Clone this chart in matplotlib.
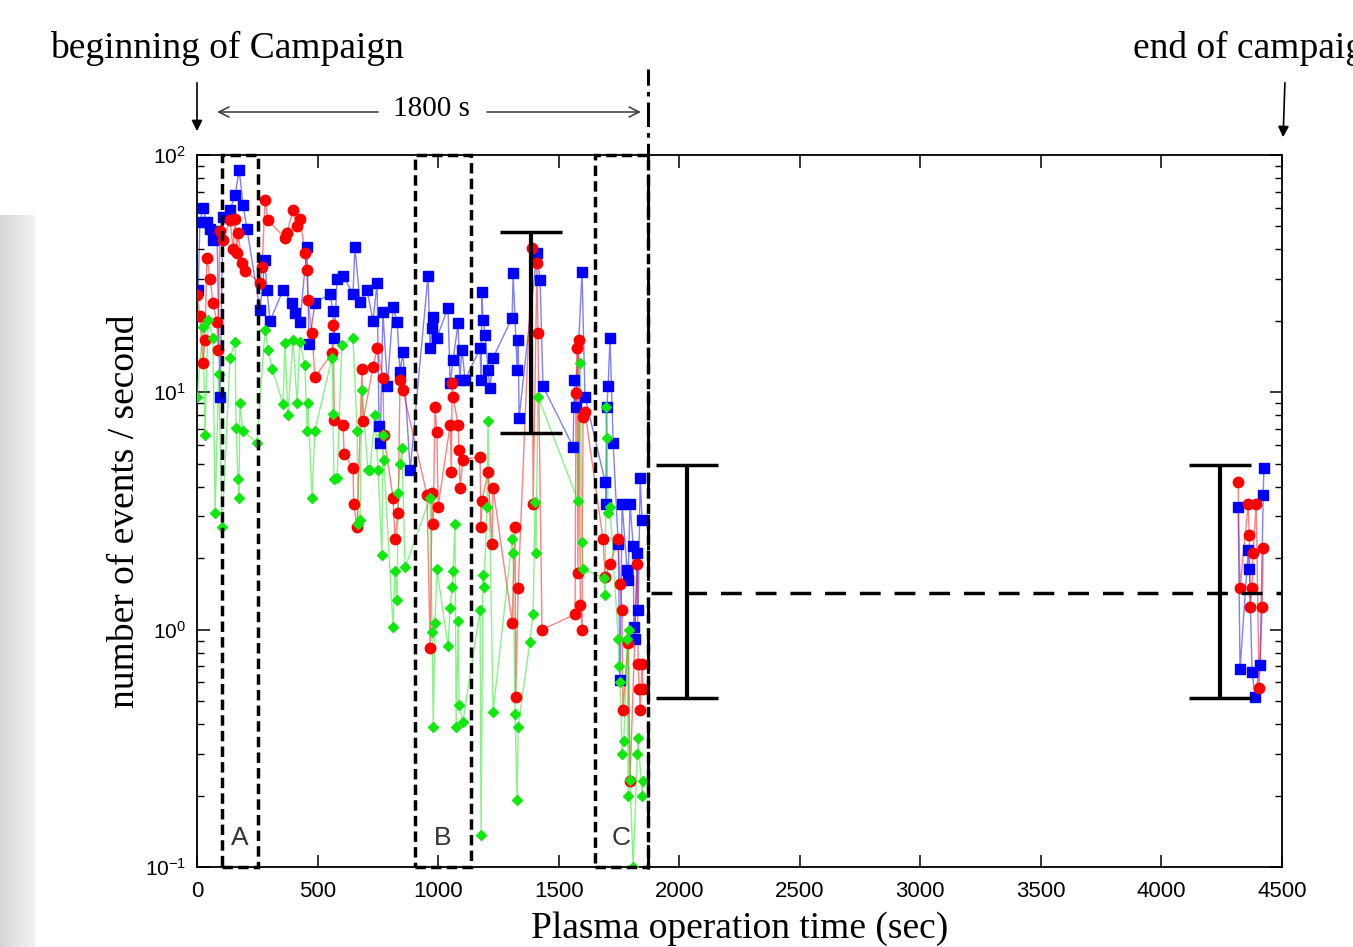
import numpy as np
import matplotlib
matplotlib.use("Agg")
import matplotlib.pyplot as plt
from matplotlib.patches import Rectangle

plt.rcParams['mathtext.fontset'] = 'custom'
plt.rcParams['mathtext.rm'] = 'Liberation Sans'
plt.rcParams['mathtext.it'] = 'Liberation Sans'

# ---------------- data (time in s, rate in events/s) ----------------
blue_t = [5, 12, 25, 41, 54, 66, 83, 95, 108, 137, 158, 175, 191, 207, 261, 282, 290, 303,
          357, 394, 406, 427, 456, 465, 489, 552, 564, 570, 581, 606, 647, 655, 676, 705,
          730, 747, 755, 760, 771, 790, 813, 830, 842, 854, 884, 958, 967, 975, 980, 995,
          1041, 1050, 1062, 1083, 1090, 1099, 1112, 1174, 1178, 1182, 1186, 1195, 1207,
          1215, 1228, 1307, 1311, 1328, 1332, 1336, 1410, 1423, 1435, 1560, 1565, 1570,
          1597, 1609, 1693, 1697, 1700, 1705, 1713, 1726, 1747, 1755, 1763, 1784, 1788,
          1796, 1809, 1812, 1815, 1826, 1830, 1838, 1846]
blue_v = [27, 52, 60, 52, 49, 44, 48, 9.6, 55, 58.6, 67.8, 86.5, 61.6, 49, 22.2, 36, 27, 20,
          27, 23.8, 21.6, 19.8, 40.9, 16, 23.8, 26, 22, 17, 30, 31, 26, 41, 24, 27,
          20, 29, 7.2, 6.1, 21.8, 10.6, 22.9, 19.8, 12.2, 14.8, 4.7, 31, 15.3, 18.6, 20.8, 17,
          22.7, 10.9, 13.7, 19.6, 11.3, 15.1, 11.3, 15.3, 11.3, 26.4, 20.2, 17.5, 12.4,
          10.4, 14, 20.6, 31.8, 12.4, 16.6, 7.8, 38.6, 29.7, 10.6, 5.9, 11.3, 8.7,
          32, 9.6, 4.2, 3.4, 8.7, 10.6, 16.9, 6.1, 2.3, 0.615, 3.4, 1.78, 1.62,
          3.4, 2.25, 1.03, 0.91, 2.1, 1.21, 4.35, 2.9]

red_t = [0, 12, 25, 33, 41, 55, 66, 83, 87, 95, 108, 137, 150, 158, 166, 170, 187, 199,
         261, 270, 282, 295, 365, 373, 398, 415, 427, 448, 456, 460, 477, 489, 560, 564,
         570, 606, 610, 647, 650, 664, 684, 689, 730, 747, 771, 775, 813, 821, 834, 842,
         854, 954, 967, 975, 980, 987, 995, 1000, 1050, 1055, 1058, 1062, 1083, 1087,
         1091, 1103, 1174, 1178, 1182, 1207, 1224, 1228, 1307, 1319, 1322, 1332, 1390,
         1394, 1410, 1414, 1431, 1568, 1572, 1576, 1580, 1584, 1590, 1597, 1601, 1609,
         1684, 1693, 1713, 1747, 1755, 1763, 1766, 1788, 1796, 1826, 1830, 1834, 1838,
         1846, 1850]
red_v = [25.7, 21, 13.3, 16.6, 36.8, 30, 23.8, 19.8, 15.1, 48, 44, 53, 40, 54, 38.7, 47, 35, 32.5,
         29, 33.7, 64.6, 53, 44.7, 47, 58.6, 50, 54, 38.7, 32.7, 24.5, 17.8, 11.6, 14.6, 19.2,
         7.65, 7.3, 5.5, 4.8, 3.4, 2.7, 12.6, 7.6, 12.8, 15.3, 11.5, 6.6, 3.6, 2.4, 3.1, 11.3,
         10.2, 3.7, 0.84, 3.75, 2.8, 8.7, 6.8, 3.3, 7.3, 4.6, 11, 9.6, 7.3, 5.7,
         3.95, 5.2, 5.35, 2.7, 3.5, 4.6, 2.3, 3.95, 1.07, 2.7, 0.52, 1.5, 40.5,
         3.4, 35, 17.8, 1.0, 1.16, 9.9, 15.3, 1.74, 16.6, 1.27, 1.0, 7.9, 8.3,
         2.4, 1.67, 1.9, 2.4, 1.56, 1.21, 0.46, 0.88, 0.23, 1.9, 0.72, 0.56, 0.46,
         0.72, 0.56]

green_t = [0, 25, 33, 46, 66, 75, 90, 104, 137, 158, 162, 170, 174, 178, 191, 249, 282, 295,
           311, 357, 365, 377, 398, 415, 427, 448, 456, 460, 477, 489, 560, 564, 568, 581,
           601, 647, 664, 668, 676, 684, 709, 717, 738, 751, 767, 771, 775, 813, 821, 830,
           834, 842, 850, 863, 967, 975, 980, 987, 995, 1041, 1050, 1058, 1062, 1070, 1075,
           1083, 1087, 1103, 1174, 1178, 1186, 1190, 1203, 1207, 1228, 1307, 1311, 1319,
           1328, 1332, 1381, 1394, 1402, 1406, 1414, 1580, 1589, 1597, 1601, 1690, 1693,
           1697, 1700, 1705, 1713, 1747, 1750, 1755, 1763, 1770, 1784, 1788, 1790, 1796,
           1809, 1826, 1830, 1846, 1850]
green_v = [9.6, 18.8, 6.6, 20.2, 16.9, 3.1, 12, 2.7, 14, 16.3, 7.1, 4.3, 3.6, 9.0, 6.9, 6.1, 18.3, 15.1,
           12.6, 8.9, 16.2, 8.0, 16.6, 9.0, 16.3, 13, 6.9, 9.0, 3.6, 6.9, 14, 8.1, 4.3, 4.35,
           15.8, 16.9, 6.9, 2.8, 2.9, 10.2, 4.7, 4.7, 8, 4.7, 2.07, 6.6, 5.2, 1.03, 1.76, 1.33,
           3.75, 5.0, 5.8, 1.83, 3.6, 0.98, 0.39, 1.07, 1.8, 0.85, 1.23, 1.52, 1.76, 2.8, 0.39,
           1.09, 0.48, 0.41, 1.21, 0.137, 1.7, 1.52, 3.3, 7.6, 0.45, 2.4, 2.1, 0.44,
           0.192, 0.39, 0.89, 1.16, 3.45, 2.1, 9.6, 3.5, 13.3, 2.35, 1.8, 1.65, 1.4,
           8.7, 6.4, 3.1, 3.3, 0.91, 0.7, 0.6, 0.3, 0.34, 0.91, 0.2, 1.0, 0.233,
           0.1, 0.3, 0.35, 0.2, 0.23]

blue2_t = [4318, 4326, 4360, 4365, 4376, 4389, 4409, 4422, 4425]
blue2_v = [3.3, 0.68, 2.17, 1.8, 0.66, 0.52, 0.71, 3.7, 4.8]
red2_t = [4318, 4326, 4360, 4364, 4368, 4376, 4380, 4393, 4405, 4418, 4422]
red2_v = [4.2, 1.5, 3.4, 2.5, 1.25, 1.5, 2.1, 3.4, 0.57, 1.25, 2.2]

# error bars (x, low, high) and mean level
err_x = [1385, 2033, 4243]
err_low = [6.74, 0.515, 0.515]
err_high = [47.4, 4.94, 4.94]
err_mid = [17.9, 1.43, 1.43]
mean_level = 1.43

# dashed boxes (start, end) and labels
box_start = [104, 904, 1651]
box_end = [253, 1137, 1871]
box_labels = ['A', 'B', 'C']
cut_time = 1871

x_ticks = [0, 500, 1000, 1500, 2000, 2500, 3000, 3500, 4000, 4500]

# ---------------- figure ----------------
W, H = 1353, 947
fig = plt.figure(figsize=(W / 100, H / 100), dpi=100)

# grey slide band on the left
bax = fig.add_axes([0, 0, 35 / W, (H - 215) / H])
grad = np.linspace(0.84, 0.95, 64).reshape(1, -1)
bax.imshow(grad, cmap='gray', vmin=0, vmax=1, aspect='auto', extent=[0, 1, 0, 1])
bax.axis('off')

ax = fig.add_axes([197 / W, 1 - 867 / H, (1282 - 197) / W, (867 - 155) / H])
ax.set_yscale('log')
ax.set_xlim(0, 4500)
ax.set_ylim(0.1, 100)

def series(t, v, color, marker, ms):
    ax.plot(t, v, '-', color=color, lw=1.0, alpha=0.5, zorder=3)
    ax.plot(t, v, ls='none', marker=marker, color=color, ms=ms, mec=color, zorder=4)

series(blue_t, blue_v, '#0000ff', 's', 7.5)
series(blue2_t, blue2_v, '#0000ff', 's', 7.5)
series(red_t, red_v, '#ff0000', 'o', 7.5)
series(red2_t, red2_v, '#ff0000', 'o', 7.5)
series(green_t, green_v, '#10e810', 'D', 5.5)

# error bars
yerr = [np.array(err_mid) - np.array(err_low), np.array(err_high) - np.array(err_mid)]
ax.errorbar(err_x, err_mid, yerr=yerr, fmt='none', ecolor='black', elinewidth=3,
            capsize=22, capthick=2.5, zorder=5)
ax.plot([cut_time + 10, 4500], [mean_level, mean_level], color='black', lw=2.5,
        dashes=(6, 4), zorder=5)

# dashed boxes
for s, e, lab in zip(box_start, box_end, box_labels):
    r = Rectangle((s, 0.1), e - s, 100 - 0.1, fill=False, ec='black', lw=2.5,
                  ls=(0, (3, 1.5)), zorder=6, clip_on=False)
    ax.add_patch(r)
    ax.text((s + e) / 2, 0.132, lab, ha='center', va='center', fontsize=19,
            family='Liberation Sans', color='#333333', zorder=7)

# vertical cut line (extends above the axes)
ax.plot([cut_time, cut_time], [0.098, 230], color='black', lw=2.2,
        ls=(0, (8, 2, 1.5, 2)), clip_on=False, zorder=6)

# ticks
ax.set_xticks(x_ticks)
ax.set_xticklabels([str(v) for v in x_ticks])
ax.tick_params(which='major', direction='in', top=True, right=True, length=9, width=1.1,
               labelsize=16)
ax.tick_params(which='minor', direction='in', top=True, right=True, length=5, width=1.0)
ax.xaxis.set_minor_locator(matplotlib.ticker.NullLocator())
for lbl in ax.get_xticklabels() + ax.get_yticklabels():
    lbl.set_family('Liberation Sans')
ax.tick_params(axis='x', pad=10)
ax.tick_params(axis='y', labelsize=15, pad=8)
for sp in ax.spines.values():
    sp.set_linewidth(1.3)

ax.set_xlabel('Plasma operation time (sec)', family='Liberation Serif', fontsize=27, labelpad=7)
ax.set_ylabel('number of events / second', family='Liberation Serif', fontsize=27, labelpad=2)

# annotations in figure pixels
def fp(x, y):
    return (x, H - y)

fig.text(50 / W, 1 - 48 / H, 'beginning of Campaign', family='Liberation Serif', fontsize=27,
         ha='left', va='center')
fig.text(1133 / W, 1 - 48 / H, 'end of campaign', family='Liberation Serif', fontsize=27,
         ha='left', va='center')
ax.annotate('', xy=fp(197, 134), xytext=fp(197, 80), xycoords='figure pixels',
            textcoords='figure pixels',
            arrowprops=dict(arrowstyle='-|>', color='black', lw=1.2, mutation_scale=16))
ax.annotate('', xy=fp(1283, 140), xytext=fp(1285, 80), xycoords='figure pixels',
            textcoords='figure pixels',
            arrowprops=dict(arrowstyle='-|>', color='black', lw=1.2, mutation_scale=16))
ax.annotate('', xy=fp(217, 112), xytext=fp(378, 112), xycoords='figure pixels',
            textcoords='figure pixels',
            arrowprops=dict(arrowstyle='->', color='#444444', lw=1.2, mutation_scale=18,
                            shrinkA=0, shrinkB=0))
ax.annotate('', xy=fp(641, 112), xytext=fp(487, 112), xycoords='figure pixels',
            textcoords='figure pixels',
            arrowprops=dict(arrowstyle='->', color='#444444', lw=1.2, mutation_scale=18,
                            shrinkA=0, shrinkB=0))
fig.text(431 / W, 1 - 109 / H, '1800 s', family='Liberation Serif', fontsize=21,
         ha='center', va='center')

fig.savefig('out.png', dpi=100)
